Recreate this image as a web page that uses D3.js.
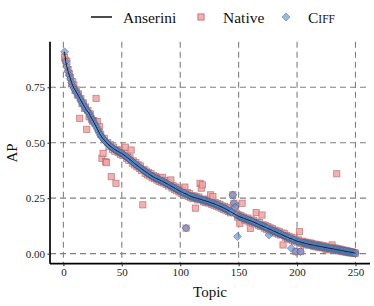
<!DOCTYPE html>
<html><head><meta charset="utf-8">
<script src="https://cdn.jsdelivr.net/npm/d3@7"></script>
<style>body{margin:0;background:#fff}svg{display:block}text{font-family:"Liberation Serif","DejaVu Serif",serif}</style>
</head><body><svg id="c" width="374" height="306"></svg>
<script>
const xTicks = [0, 50, 100, 150, 200, 250];
const yTicks = [0, 0.25, 0.5, 0.75];
const seriesNames = ["Anserini", "Native", "Ciff"];

const anserini = [
0.910,0.866,0.842,0.822,0.805,0.789,0.772,0.757,0.746,0.738,
0.729,0.720,0.710,0.700,0.690,0.681,0.672,0.663,0.654,0.645,
0.639,0.633,0.622,0.612,0.603,0.593,0.583,0.573,0.563,0.553,
0.541,0.533,0.525,0.518,0.512,0.506,0.500,0.495,0.490,0.485,
0.481,0.477,0.473,0.469,0.466,0.463,0.460,0.457,0.454,0.452,
0.448,0.444,0.440,0.436,0.432,0.428,0.424,0.420,0.415,0.410,
0.406,0.402,0.398,0.394,0.390,0.386,0.382,0.378,0.374,0.370,
0.366,0.363,0.359,0.356,0.352,0.349,0.346,0.343,0.340,0.338,
0.335,0.333,0.330,0.328,0.326,0.323,0.320,0.317,0.314,0.311,
0.308,0.305,0.302,0.299,0.296,0.293,0.290,0.287,0.284,0.281,
0.278,0.276,0.273,0.271,0.269,0.266,0.263,0.261,0.258,0.256,
0.254,0.253,0.251,0.250,0.248,0.247,0.245,0.244,0.242,0.240,
0.239,0.237,0.235,0.234,0.232,0.230,0.228,0.227,0.225,0.222,
0.220,0.218,0.216,0.213,0.211,0.209,0.206,0.204,0.201,0.198,
0.195,0.192,0.189,0.186,0.183,0.180,0.177,0.174,0.171,0.168,
0.166,0.164,0.162,0.160,0.158,0.156,0.154,0.152,0.150,0.148,
0.146,0.144,0.142,0.139,0.137,0.135,0.132,0.130,0.127,0.125,
0.123,0.121,0.118,0.116,0.114,0.111,0.109,0.107,0.104,0.102,
0.100,0.097,0.095,0.092,0.090,0.088,0.085,0.083,0.080,0.078,
0.076,0.073,0.071,0.069,0.067,0.065,0.063,0.061,0.058,0.056,
0.055,0.053,0.052,0.050,0.049,0.048,0.046,0.045,0.044,0.042,
0.041,0.040,0.039,0.038,0.037,0.036,0.035,0.034,0.033,0.032,
0.031,0.030,0.029,0.028,0.027,0.026,0.025,0.024,0.023,0.022,
0.021,0.020,0.019,0.018,0.017,0.016,0.015,0.014,0.013,0.012,
0.011,0.010,0.009,0.008,0.007,0.006,0.005,0.004,0.003,0.002];

const native = [
0.885,0.872,0.865,0.830,0.812,0.795,0.765,0.775,0.760,0.735,
0.738,0.715,0.720,0.610,0.698,0.676,0.680,0.655,0.661,0.560,
0.645,0.617,0.630,0.605,0.598,0.600,0.590,0.700,0.595,0.560,
0.572,0.538,0.430,0.452,0.520,0.415,0.410,0.500,0.482,0.492,
0.347,0.470,0.480,0.462,0.317,0.470,0.455,0.464,0.448,0.458,
0.442,0.452,0.480,0.430,0.440,0.420,0.432,0.467,0.408,0.418,
0.400,0.410,0.392,0.400,0.384,0.395,0.375,0.220,0.380,0.362,
0.372,0.355,0.366,0.350,0.360,0.342,0.352,0.338,0.348,0.332,
0.342,0.326,0.338,0.322,0.344,0.318,0.330,0.312,0.322,0.305,
0.316,0.332,0.296,0.306,0.290,0.300,0.284,0.296,0.278,0.290,
0.272,0.284,0.268,0.300,0.115,0.275,0.258,0.270,0.252,0.262,
0.248,0.260,0.205,0.256,0.242,0.255,0.317,0.295,0.310,0.234,
0.246,0.230,0.244,0.228,0.240,0.265,0.222,0.257,0.218,0.230,
0.214,0.226,0.210,0.222,0.205,0.215,0.200,0.212,0.196,0.206,
0.190,0.205,0.184,0.195,0.265,0.227,0.209,0.182,0.165,0.175,
0.137,0.172,0.227,0.165,0.152,0.160,0.148,0.160,0.144,0.114,
0.152,0.138,0.150,0.134,0.185,0.142,0.128,0.140,0.122,0.174,
0.130,0.115,0.126,0.110,0.122,0.106,0.116,0.100,0.112,0.096,
0.106,0.092,0.102,0.088,0.098,0.084,0.092,0.039,0.092,0.074,
0.082,0.068,0.078,0.064,0.074,0.060,0.070,0.056,0.009,0.052,
0.062,0.099,0.009,0.045,0.056,0.043,0.052,0.040,0.050,0.038,
0.047,0.047,0.044,0.033,0.043,0.031,0.041,0.029,0.039,0.027,
0.037,0.026,0.035,0.024,0.017,0.022,0.032,0.020,0.029,0.039,
0.026,0.016,0.025,0.360,0.022,0.012,0.020,0.010,0.017,0.008,
0.015,0.006,0.013,0.004,0.010,0.003,0.008,0.002,0.005,0.001];

const ciff = [
0.910,0.866,0.842,0.822,0.805,0.789,0.772,0.757,0.746,0.738,
0.729,0.720,0.710,0.700,0.690,0.681,0.672,0.663,0.654,0.645,
0.639,0.633,0.622,0.612,0.603,0.593,0.583,0.573,0.563,0.553,
0.541,0.533,0.525,0.518,0.512,0.506,0.500,0.495,0.490,0.485,
0.481,0.477,0.473,0.469,0.466,0.463,0.460,0.457,0.454,0.452,
0.448,0.444,0.440,0.436,0.432,0.428,0.424,0.420,0.415,0.410,
0.406,0.402,0.398,0.394,0.390,0.386,0.382,0.378,0.374,0.370,
0.366,0.363,0.359,0.356,0.352,0.349,0.346,0.343,0.340,0.338,
0.335,0.333,0.330,0.328,0.326,0.323,0.320,0.317,0.314,0.311,
0.308,0.305,0.302,0.299,0.296,0.293,0.290,0.287,0.284,0.281,
0.278,0.276,0.273,0.271,0.115,0.266,0.263,0.261,0.258,0.256,
0.254,0.253,0.251,0.250,0.248,0.247,0.245,0.244,0.242,0.240,
0.239,0.237,0.235,0.234,0.232,0.230,0.228,0.227,0.225,0.222,
0.220,0.218,0.216,0.213,0.211,0.209,0.206,0.204,0.201,0.198,
0.195,0.192,0.189,0.186,0.265,0.227,0.209,0.174,0.077,0.168,
0.166,0.164,0.162,0.160,0.158,0.156,0.154,0.152,0.150,0.148,
0.146,0.144,0.142,0.139,0.137,0.135,0.132,0.130,0.127,0.125,
0.123,0.121,0.118,0.116,0.114,0.084,0.109,0.107,0.104,0.102,
0.100,0.097,0.095,0.092,0.090,0.088,0.085,0.083,0.080,0.078,
0.076,0.073,0.071,0.069,0.024,0.065,0.063,0.061,0.009,0.056,
0.055,0.053,0.009,0.050,0.049,0.048,0.046,0.045,0.044,0.042,
0.041,0.040,0.039,0.038,0.037,0.036,0.035,0.034,0.033,0.032,
0.031,0.030,0.029,0.028,0.027,0.026,0.025,0.024,0.023,0.022,
0.021,0.020,0.019,0.018,0.017,0.016,0.015,0.014,0.013,0.012,
0.011,0.010,0.009,0.008,0.007,0.006,0.005,0.004,0.003,0.002];

const svg = d3.select("#c");
const L = 50, R = 370, T = 41.8, B = 263.7;
const x = d3.scaleLinear().domain([-11.45, 262.45]).range([L, R]);
const y = d3.scaleLinear().domain([-0.0455, 0.955]).range([B, T]);
const topic = i => i + 1;

const gridC = "#808080";
const grid = svg.append("g").attr("stroke", gridC).attr("stroke-width", 1.1).attr("stroke-dasharray", "6,4");
grid.selectAll(".h").data(yTicks).join("line")
  .attr("x1", L).attr("x2", R).attr("y1", d => y(d)).attr("y2", d => y(d));
grid.selectAll(".v").data(xTicks).join("line")
  .attr("y1", T).attr("y2", B).attr("x1", d => x(d)).attr("x2", d => x(d));

const sqFill = "#f2a2a2", sqStroke = "#b56b6b";
const dmFill = "#5b92dc", dmStroke = "#3a4a68";
const sq = 6.2, dr = 4.0;
const diamond = `M0,${-dr}L${dr},0L0,${dr}L${-dr},0Z`;

svg.append("g").selectAll("rect").data(native).join("rect")
  .attr("x", (d, i) => x(topic(i)) - sq / 2).attr("y", d => y(d) - sq / 2)
  .attr("width", sq).attr("height", sq)
  .attr("fill", sqFill).attr("fill-opacity", 0.85)
  .attr("stroke", sqStroke).attr("stroke-width", 0.8).attr("stroke-opacity", 0.8);

svg.append("g").selectAll("path").data(ciff).join("path")
  .attr("transform", (d, i) => `translate(${x(topic(i))},${y(d)})`)
  .attr("d", diamond)
  .attr("fill", dmFill).attr("fill-opacity", 0.65)
  .attr("stroke", dmStroke).attr("stroke-width", 0.7).attr("stroke-opacity", 0.6);

const line = d3.line().x((d, i) => x(topic(i))).y(d => y(d));
svg.append("path").datum(anserini).attr("d", line)
  .attr("fill", "none").attr("stroke", "#1a1a1a").attr("stroke-width", 1.0);

const xa = svg.append("g").attr("transform", `translate(0,${B})`)
  .call(d3.axisBottom(x).tickValues(xTicks).tickSize(2.5).tickSizeOuter(0).tickPadding(2.5));
const ya = svg.append("g").attr("transform", `translate(${L},0)`)
  .call(d3.axisLeft(y).tickValues(yTicks).tickFormat(d3.format(".2f")).tickSize(2.5).tickSizeOuter(0).tickPadding(2.5));
[xa, ya].forEach(a => {
  a.select(".domain").attr("stroke", "#000").attr("stroke-width", 1.7);
  a.selectAll(".tick line").attr("stroke", "#333").attr("stroke-width", 1.1);
  a.selectAll("text").attr("font-family", "Liberation Serif").attr("font-size", 11).attr("fill", "#222");
});
xa.select(".domain").attr("d", `M${L},0H${R}`);
ya.select(".domain").attr("d", `M0,${T}V${B}`);

svg.append("text").attr("x", (L + R) / 2 + 0).attr("y", 297).attr("text-anchor", "middle")
  .attr("font-size", 15).attr("fill", "#111").text("Topic");
svg.append("text").attr("transform", `translate(17,153) rotate(-90)`).attr("text-anchor", "middle")
  .attr("font-size", 15).attr("fill", "#111").text("AP");

// legend
const lg = svg.append("g").attr("font-size", 15.5).attr("fill", "#111");
lg.append("line").attr("x1", 91).attr("x2", 112).attr("y1", 17).attr("y2", 17).attr("stroke", "#111").attr("stroke-width", 1.5);
lg.append("text").attr("x", 123).attr("y", 22.5).text(seriesNames[0]);
lg.append("rect").attr("x", 201 - sq / 2).attr("y", 17 - sq / 2).attr("width", sq).attr("height", sq)
  .attr("fill", sqFill).attr("fill-opacity", 0.85).attr("stroke", sqStroke).attr("stroke-width", 0.8);
lg.append("text").attr("x", 223).attr("y", 22.5).text(seriesNames[1]);
lg.append("path").attr("transform", "translate(286,17)").attr("d", diamond)
  .attr("fill", dmFill).attr("fill-opacity", 0.65).attr("stroke", dmStroke).attr("stroke-width", 0.7).attr("stroke-opacity", 0.6);
const ct = lg.append("text").attr("x", 308).attr("y", 22.5);
ct.append("tspan").text(seriesNames[2].slice(0, 1));
ct.append("tspan").attr("font-size", 11.5).text(seriesNames[2].slice(1).toUpperCase());
</script></body></html>
